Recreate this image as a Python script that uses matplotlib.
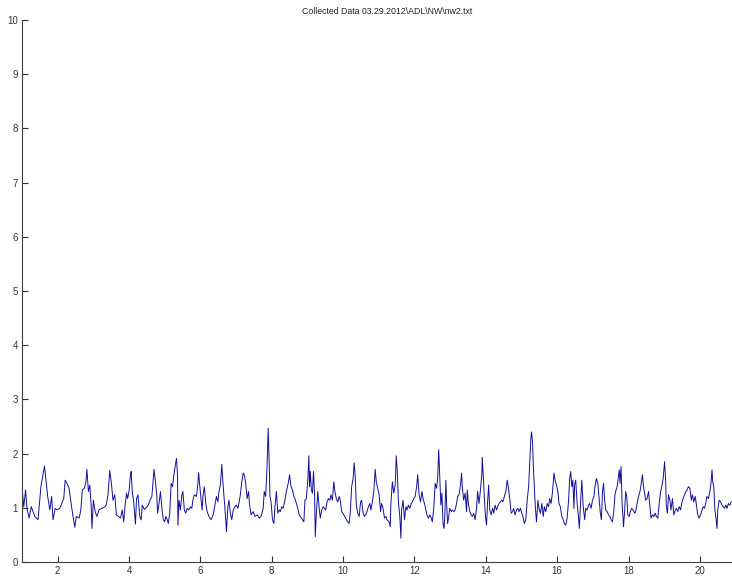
import matplotlib
matplotlib.use("Agg")
import matplotlib.pyplot as plt
import numpy as np

plt.rcParams['font.family'] = ['Liberation Sans', 'DejaVu Sans']

TITLE = r"Collected Data 03.29.2012\ADL\NW\nw2.txt"
x_ticks = [2, 4, 6, 8, 10, 12, 14, 16, 18, 20]
y_ticks = [0, 1, 2, 3, 4, 5, 6, 7, 8, 9, 10]

# recorded signal, split into consecutive stretches of time
t_a = [1.01, 1.05, 1.10, 1.14, 1.20, 1.26, 1.36, 1.45, 1.53, 1.63, 1.72, 1.78, 1.83, 1.87, 1.93, 1.98,
       2.06, 2.13, 2.17, 2.21, 2.26, 2.32, 2.37, 2.43, 2.48, 2.52, 2.60, 2.65, 2.69, 2.75, 2.79, 2.82,
       2.86, 2.90, 2.94, 2.96, 3.00, 3.05, 3.10, 3.16, 3.23, 3.31, 3.36, 3.41, 3.46, 3.51, 3.55, 3.60,
       3.645, 3.70, 3.76, 3.81, 3.85, 3.89, 3.93, 3.96, 4.00, 4.04, 4.06, 4.09, 4.13, 4.18, 4.21, 4.25,
       4.30, 4.34, 4.37, 4.43, 4.49, 4.54, 4.60, 4.64, 4.67, 4.70, 4.74, 4.78, 4.80, 4.84, 4.88, 4.93,
       4.96, 5.00]
v_a = [1.30, 1.02, 1.33, 0.99, 0.81, 1.02, 0.84, 0.78, 1.39, 1.77, 1.21, 0.96, 1.21, 0.78, 0.99, 0.96,
       0.99, 1.11, 1.17, 1.51, 1.45, 1.36, 1.11, 0.84, 0.64, 0.84, 0.81, 0.96, 1.33, 1.36, 1.48, 1.71,
       1.30, 1.42, 1.02, 0.62, 1.14, 0.93, 0.84, 0.96, 0.99, 1.01, 1.05, 1.24, 1.69, 1.42, 1.14, 1.24,
       0.87, 0.84, 0.81, 0.96, 0.74, 1.05, 1.27, 1.17, 1.30, 1.61, 1.67, 1.30, 1.11, 0.70, 1.17, 1.24,
       0.84, 0.78, 1.05, 0.97, 1.01, 1.05, 1.16, 1.21, 1.45, 1.71, 1.48, 1.21, 0.90, 1.08, 1.30, 0.93,
       0.78, 0.74]

t_b = [5.03, 5.07, 5.10, 5.14, 5.18, 5.22, 5.25, 5.29, 5.33, 5.36, 5.37, 5.40, 5.44, 5.48, 5.51, 5.55,
       5.59, 5.63, 5.68, 5.72, 5.76, 5.79, 5.83, 5.89, 5.93, 5.95, 5.98, 6.02, 6.05, 6.07, 6.11, 6.15,
       6.19, 6.24, 6.30, 6.36, 6.39, 6.45, 6.49, 6.52, 6.56, 6.60, 6.64, 6.67, 6.71, 6.73, 6.77, 6.80,
       6.84, 6.88, 6.92, 6.97, 7.01, 7.05, 7.08, 7.12, 7.16, 7.20, 7.23, 7.27, 7.31, 7.35, 7.38, 7.42,
       7.48, 7.53, 7.59, 7.65, 7.70, 7.76, 7.79, 7.83, 7.87, 7.90, 7.93, 7.95, 7.98, 8.02, 8.06, 8.09,
       8.13, 8.17, 8.21, 8.24, 8.28, 8.32, 8.37, 8.41, 8.47, 8.50, 8.54, 8.58, 8.62, 8.65, 8.69, 8.73,
       8.77, 8.80, 8.86, 8.90]
v_b = [0.84, 0.78, 0.71, 0.90, 1.45, 1.39, 1.57, 1.76, 1.91, 1.57, 0.68, 1.14, 0.96, 1.24, 1.30, 0.96,
       0.90, 0.99, 0.96, 1.02, 0.99, 1.14, 1.24, 1.21, 1.45, 1.65, 1.42, 1.14, 0.96, 1.21, 1.39, 1.08,
       0.93, 0.84, 0.78, 0.87, 0.99, 1.21, 1.11, 1.30, 1.42, 1.80, 1.39, 1.14, 0.78, 0.56, 1.02, 1.14,
       0.90, 0.78, 0.96, 1.02, 1.05, 0.99, 1.08, 1.24, 1.48, 1.64, 1.61, 1.45, 1.17, 1.30, 1.05, 0.87,
       0.93, 0.84, 0.87, 0.81, 0.84, 0.99, 1.30, 1.21, 1.79, 2.47, 1.79, 1.21, 1.11, 0.78, 0.71, 1.02,
       1.30, 0.90, 0.96, 0.93, 1.02, 0.99, 1.14, 1.30, 1.48, 1.61, 1.39, 1.33, 1.21, 1.17, 1.08, 0.99,
       0.87, 0.84, 0.78, 0.74]

t_c = [8.93, 8.97, 9.01, 9.04, 9.06, 9.08, 9.11, 9.14, 9.17, 9.20, 9.22, 9.25, 9.29, 9.33, 9.36, 9.40,
       9.44, 9.48, 9.51, 9.55, 9.59, 9.63, 9.66, 9.70, 9.74, 9.77, 9.81, 9.85, 9.89, 9.92, 9.96, 10.02,
       10.07, 10.13, 10.17, 10.20, 10.24, 10.28, 10.31, 10.34, 10.37, 10.41, 10.45, 10.49, 10.52, 10.56,
       10.60, 10.63, 10.67, 10.71, 10.75, 10.78, 10.82, 10.86, 10.90, 10.93, 10.97, 11.01, 11.05, 11.08,
       11.12, 11.16, 11.20, 11.23, 11.29, 11.32, 11.34, 11.38, 11.42, 11.46, 11.49, 11.52, 11.55, 11.59,
       11.62, 11.64, 11.68, 11.72, 11.76, 11.79, 11.83, 11.87, 11.91, 11.94, 11.98, 12.02, 12.06, 12.09,
       12.13, 12.17, 12.21, 12.24, 12.28, 12.32, 12.35, 12.39, 12.43, 12.47, 12.50, 12.54, 12.58, 12.62,
       12.65, 12.68, 12.71, 12.74, 12.77, 12.80, 12.83]
v_c = [1.14, 1.17, 1.51, 1.96, 1.39, 1.67, 1.33, 1.27, 1.67, 1.24, 0.47, 0.90, 1.30, 0.99, 0.81, 0.96,
       1.02, 0.99, 0.96, 1.11, 1.17, 1.14, 1.24, 1.14, 1.48, 1.30, 1.17, 1.11, 1.21, 1.14, 0.93, 0.87,
       0.81, 0.74, 0.71, 0.90, 1.39, 1.54, 1.83, 1.57, 1.05, 0.90, 0.84, 1.11, 1.14, 0.90, 0.84, 0.87,
       0.93, 1.02, 1.08, 0.96, 1.11, 1.30, 1.71, 1.48, 1.36, 1.24, 0.93, 1.08, 0.99, 0.81, 0.84, 0.78,
       0.74, 0.65, 1.08, 1.48, 1.27, 1.42, 1.96, 1.64, 1.11, 0.84, 0.44, 0.96, 1.14, 0.78, 1.02, 0.96,
       1.05, 0.99, 1.08, 1.11, 1.17, 1.21, 1.39, 1.61, 1.24, 1.11, 1.30, 1.17, 1.08, 0.96, 0.87, 0.81,
       0.87, 0.81, 0.74, 0.99, 1.45, 1.36, 1.54, 2.07, 1.57, 1.05, 1.27, 0.71, 0.62]

t_d = [12.85, 12.88, 12.90, 12.93, 12.96, 12.99, 13.03, 13.06, 13.10, 13.14, 13.18, 13.21, 13.25, 13.29,
       13.32, 13.34, 13.38, 13.42, 13.46, 13.48, 13.51, 13.55, 13.59, 13.62, 13.66, 13.70, 13.74, 13.77,
       13.81, 13.85, 13.89, 13.90, 13.93, 13.96, 13.99, 14.02, 14.05, 14.08, 14.11, 14.15, 14.19, 14.22,
       14.26, 14.30, 14.33, 14.37, 14.41, 14.45, 14.48, 14.52, 14.56, 14.60, 14.63, 14.67, 14.71, 14.75,
       14.78, 14.82, 14.86, 14.90, 14.93, 14.97, 15.01, 15.05, 15.08, 15.12, 15.16, 15.20, 15.23, 15.26,
       15.28, 15.31, 15.33, 15.36, 15.39, 15.42, 15.46, 15.49, 15.53, 15.57, 15.61, 15.64, 15.68, 15.72,
       15.76, 15.79, 15.83, 15.87, 15.91, 15.94, 15.98, 16.02, 16.05, 16.09, 16.13, 16.17, 16.20, 16.24,
       16.28, 16.32, 16.35, 16.38, 16.41, 16.44, 16.47, 16.49, 16.52, 16.56, 16.60, 16.62, 16.65, 16.69,
       16.73, 16.77]
v_d = [0.84, 1.51, 1.08, 0.71, 0.84, 0.99, 0.93, 0.96, 0.93, 0.96, 1.08, 1.21, 1.24, 1.42, 1.64, 1.39,
       1.14, 1.27, 0.93, 1.33, 1.08, 0.93, 0.87, 0.84, 0.90, 0.78, 0.99, 1.30, 1.08, 1.33, 1.64, 1.93,
       1.57, 1.17, 0.84, 0.68, 1.11, 1.42, 0.96, 0.87, 0.99, 0.90, 1.05, 0.96, 1.02, 1.08, 1.11, 1.14,
       1.11, 1.21, 1.30, 1.51, 1.39, 1.17, 0.90, 0.93, 0.99, 0.87, 0.96, 0.99, 0.93, 0.99, 0.90, 0.81,
       0.71, 0.78, 1.14, 1.39, 1.82, 2.25, 2.40, 2.22, 1.79, 1.39, 0.99, 0.74, 1.14, 0.99, 0.90, 1.08,
       0.84, 1.02, 0.93, 1.08, 1.02, 1.17, 1.08, 1.30, 1.64, 1.51, 1.42, 1.30, 1.08, 1.02, 0.84, 0.78,
       0.71, 0.68, 0.81, 1.14, 1.54, 1.67, 1.39, 1.51, 0.99, 1.42, 1.51, 1.08, 0.81, 0.62, 1.02, 1.51,
       1.02, 0.78]

t_e = [16.80, 16.84, 16.88, 16.91, 16.95, 16.99, 17.03, 17.06, 17.10, 17.14, 17.18, 17.21, 17.24, 17.27,
       17.30, 17.33, 17.36, 17.40, 17.44, 17.48, 17.51, 17.55, 17.59, 17.62, 17.65, 17.68, 17.71, 17.74,
       17.76, 17.79, 17.82, 17.86, 17.89, 17.92, 17.95, 17.98, 18.02, 18.05, 18.09, 18.13, 18.17, 18.20,
       18.24, 18.28, 18.32, 18.35, 18.39, 18.42, 18.45, 18.48, 18.52, 18.56, 18.60, 18.63, 18.67, 18.71,
       18.75, 18.78, 18.82, 18.86, 18.90, 18.93, 18.97, 19.01, 19.04, 19.06, 19.09, 19.12, 19.16, 19.19,
       19.23, 19.27, 19.31, 19.34, 19.38, 19.42, 19.46, 19.49, 19.53, 19.57, 19.61, 19.64, 19.68, 19.72,
       19.76, 19.79, 19.83, 19.87, 19.91, 19.94, 19.98, 20.02, 20.06, 20.09, 20.13, 20.17, 20.20, 20.24,
       20.28, 20.31, 20.34, 20.36, 20.39, 20.42, 20.45, 20.48, 20.50, 20.54, 20.58, 20.62, 20.65, 20.69,
       20.73, 20.76, 20.80, 20.84, 20.88]
v_e = [0.99, 0.96, 1.05, 1.08, 0.99, 1.14, 1.21, 1.39, 1.54, 1.45, 1.14, 0.90, 0.78, 1.30, 1.45, 1.14,
       0.96, 0.93, 0.87, 0.84, 0.78, 0.74, 0.96, 1.24, 1.33, 1.39, 1.54, 1.70, 1.45, 1.76, 1.08, 0.65,
       0.93, 1.30, 1.21, 0.87, 0.84, 0.93, 0.99, 0.96, 0.90, 0.93, 1.08, 1.21, 1.30, 1.42, 1.61, 1.39,
       1.27, 1.14, 1.17, 1.30, 1.02, 0.81, 0.87, 0.84, 0.90, 0.84, 0.81, 1.08, 1.30, 1.39, 1.54, 1.85,
       1.51, 1.02, 0.90, 1.24, 1.14, 0.96, 1.17, 0.87, 0.96, 0.99, 0.93, 1.02, 0.96, 1.08, 1.17, 1.24,
       1.30, 1.33, 1.39, 1.36, 1.14, 1.24, 1.11, 1.21, 1.02, 0.87, 0.81, 0.87, 0.96, 1.02, 0.99, 1.11,
       1.21, 1.17, 1.30, 1.45, 1.70, 1.48, 1.39, 0.96, 0.81, 0.62, 0.96, 1.14, 1.11, 1.05, 1.02, 0.99,
       1.05, 0.99, 1.08, 1.05, 1.11]

time = np.concatenate([t_a, t_b, t_c, t_d, t_e])
signal = np.concatenate([v_a, v_b, v_c, v_d, v_e])

W, H = 732, 577
fig = plt.figure(figsize=(W / 100, H / 100), dpi=100)
fig.patch.set_facecolor('white')
ax = fig.add_axes([22 / W, 15 / H, (W - 22) / W, (562 - 20) / H])

ax.plot(time, signal, color='#10109c', linewidth=0.7)

ax.set_xlim(1, 20.9)
ax.set_ylim(0, 10)
ax.set_xticks(x_ticks)
ax.set_yticks(y_ticks)
ax.tick_params(direction='in', length=4, width=0.8, colors='#333333', labelsize=7, pad=3)
for side in ('top', 'right'):
    ax.spines[side].set_visible(False)
for side in ('left', 'bottom'):
    ax.spines[side].set_color('#404040')
    ax.spines[side].set_linewidth(0.8)

fig.text(387 / W, 1 - 12 / H, TITLE, ha='center', va='center', fontsize=6.3, color='#222222')

fig.savefig('out.png', dpi=100, facecolor='white')
